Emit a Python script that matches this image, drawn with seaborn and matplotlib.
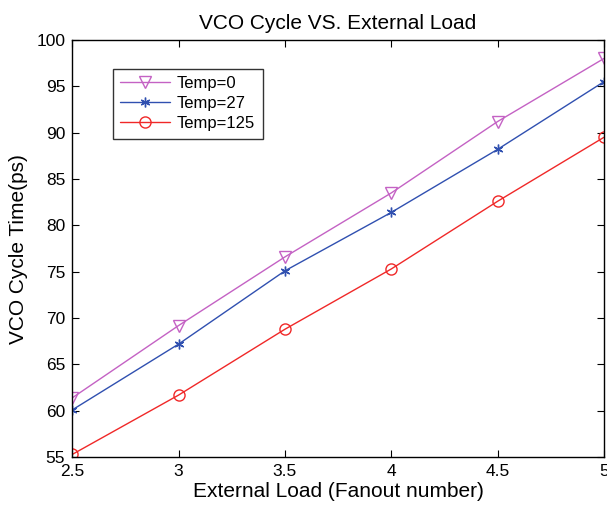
import matplotlib
matplotlib.use("Agg")
import matplotlib.pyplot as plt
import seaborn as sns
import pandas as pd

load = [2.5, 3.0, 3.5, 4.0, 4.5, 5.0]
temp0 = [61.4, 69.2, 76.6, 83.5, 91.2, 98.0]
temp27 = [60.1, 67.2, 75.1, 81.4, 88.2, 95.5]
temp125 = [55.3, 61.7, 68.8, 75.3, 82.6, 89.5]
labels = ["Temp=0", "Temp=27", "Temp=125"]

sns.set_style("ticks")
plt.rcParams['font.family'] = ['Liberation Sans', 'DejaVu Sans']
plt.rcParams['text.color'] = 'black'
plt.rcParams['axes.labelcolor'] = 'black'
plt.rcParams['xtick.color'] = 'black'
plt.rcParams['ytick.color'] = 'black'

fig = plt.figure(figsize=(6.07, 5.12), dpi=100)
ax = fig.add_axes([0.119, 0.107, 0.876, 0.815])

colors = ["#c462c4", "#3050b0", "#f02828"]
markers = ["v", "*", "o"]
for vals, lab, c, m in zip([temp0, temp27, temp125], labels, colors, markers):
    df = pd.DataFrame({"x": load, "y": vals})
    if m == "*":
        sns.lineplot(data=df, x="x", y="y", ax=ax, color=c, lw=1.0, label=lab,
                     marker=(6, 2, 0), markersize=7, markeredgecolor=c, markeredgewidth=1.0)
    else:
        sns.lineplot(data=df, x="x", y="y", ax=ax, color=c, lw=1.0, label=lab,
                     marker=m, markersize=8, markerfacecolor="none", markeredgecolor=c,
                     markeredgewidth=1.0)

ax.set_xlim(2.5, 5)
ax.set_ylim(55, 100)
ax.set_xticks([2.5, 3, 3.5, 4, 4.5, 5])
ax.set_xticklabels(["2.5", "3", "3.5", "4", "4.5", "5"])
ax.set_yticks(range(55, 101, 5))
ax.tick_params(direction="in", top=True, right=True, labelsize=12.5, length=5, width=0.8, pad=5)
for s in ax.spines.values():
    s.set_linewidth(1.0)
    s.set_color("black")
ax.set_xlabel("External Load (Fanout number)", fontsize=15, labelpad=2)
ax.set_ylabel("VCO Cycle Time(ps)", fontsize=15, labelpad=6)
ax.set_title("VCO Cycle VS. External Load", fontsize=15, pad=8)

leg = ax.legend(loc="upper left", bbox_to_anchor=(0.172, 0.882), bbox_transform=fig.transFigure,
                fontsize=12, frameon=True, fancybox=False, edgecolor="black",
                handlelength=3.0, borderpad=0.45, labelspacing=0.3, handletextpad=0.4)
leg.get_frame().set_linewidth(1.0)

fig.savefig("out.png", dpi=100)
